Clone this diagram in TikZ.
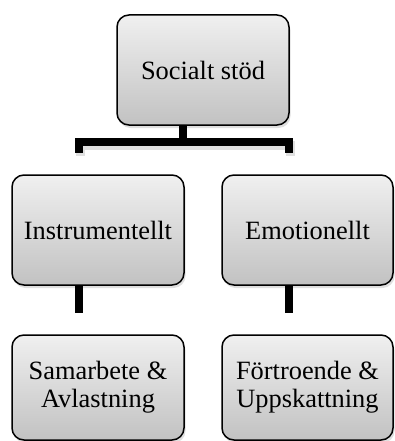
\documentclass[tikz,border=0pt]{standalone}
\usepackage{fontspec}
\setmainfont{Liberation Serif}
\usetikzlibrary{shadows}
\begin{document}
\begin{tikzpicture}[x=1pt,y=-1pt,
  box/.style={draw=black, line width=1.5pt, rounded corners=12pt,
    top color=gray!12, bottom color=gray!48,
    drop shadow={opacity=0.25, shadow xshift=1.5pt, shadow yshift=-3pt},
    align=center, inner sep=0pt, font=\fontsize{26.4}{28}\selectfont},
  conn/.style={line width=8pt, black, line join=miter},
  connshadow/.style={line width=9pt, black, opacity=0.12, line join=miter}]
\useasboundingbox (0,0) rectangle (394,441);
\coordinate (bl) at (79,142);
\coordinate (br) at (289,142);
\coordinate (bm) at (183,142);
\coordinate (bld) at (79,153);
\coordinate (brd) at (289,153);
\coordinate (cl) at (79,313);
\coordinate (cr) at (289,313);
% shadows of connectors
\draw[connshadow] ([xshift=1.5pt,yshift=-3pt]bld) -- ([xshift=1.5pt,yshift=-3pt]bl) -- ([xshift=1.5pt,yshift=-3pt]br) -- ([xshift=1.5pt,yshift=-3pt]brd);
\node[box, minimum width=172pt, minimum height=110pt] (top) at (203,70) {Socialt stöd};
\node[box, minimum width=172pt, minimum height=110pt] (ins) at (98,230) {Instrumentellt};
\node[box, minimum width=171pt, minimum height=110pt] (emo) at (307.5,230) {Emotionellt};
\node[box, minimum width=172pt, minimum height=105pt] (sam) at (98,387.5) {Samarbete \&\\Avlastning};
\node[box, minimum width=171pt, minimum height=105pt] (for) at (307.5,387.5) {Förtroende \&\\Uppskattning};
\draw[conn] (top.south -| bm) -- (bm);
\draw[conn] (bld) -- (bl) -- (br) -- (brd);
\draw[conn] (ins.south -| cl) -- (cl);
\draw[conn] (emo.south -| cr) -- (cr);
\end{tikzpicture}
\end{document}
